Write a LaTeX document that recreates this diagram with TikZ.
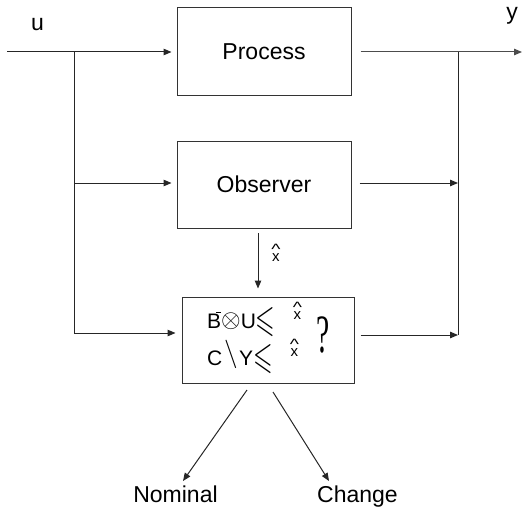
\RequirePackage{fix-cm}
\documentclass[tikz,border=0pt]{standalone}
\usepackage{amssymb}
\usepackage{graphicx}
\usepackage{fontspec}
\setmainfont{Liberation Sans}
\newfontfamily\qfont{Liberation Serif}
\usetikzlibrary{arrows.meta}
\newcommand\myxhat{{\fontsize{15}{15}\selectfont\ooalign{x\cr\hidewidth\raisebox{7pt}{\scalebox{1.3}[1]{\textasciicircum}}\hidewidth\cr}}}
\begin{document}
\begin{tikzpicture}[x=1pt,y=-1pt,font=\fontsize{23}{23}\selectfont,
  box/.style={draw=black!80,line width=1pt,minimum width=174pt,minimum height=88pt,inner sep=0pt},
  conn/.style={draw=black!85,line width=1pt},
  arr/.style={conn,-{Triangle[length=8pt,width=6.5pt]}},
  lbl/.style={inner sep=0pt,anchor=base}]
\useasboundingbox (0,0) rectangle (524,508);
% blocks
\node[box] (proc) at (264,52) {Process};
\node[box,minimum height=87pt] (obs) at (264,184.5) {Observer};
\node[box,minimum width=172pt,minimum height=86pt] (det) at (268,340) {};
% detector content
\node[inner sep=0pt,anchor=base west] (l1) at (207,328) {\fontsize{21}{21}\selectfont B\llap{\rule[15pt]{5pt}{1pt}}\raisebox{0.5pt}{\scalebox{1.2}{$\otimes$}}U\raisebox{-3pt}{\scalebox{1.2}[1.8]{$\leqslant$}}\hspace{18pt}\raisebox{9pt}{\myxhat}};
\node[inner sep=0pt,anchor=base west] (l2) at (207,365) {\fontsize{21}{21}\selectfont C\hspace{2pt}\raisebox{4pt}{\scalebox{1.3}[1.35]{$\backslash$}}\hspace{1pt}Y\raisebox{-3pt}{\scalebox{1.2}[1.8]{$\leqslant$}}\hspace{18pt}\raisebox{9pt}{\myxhat}};
\node[inner sep=0pt] (q) at (323.5,335) {\scalebox{0.55}[1]{\fontsize{54}{54}\selectfont\qfont ?}};
% labels
\node[lbl] (ulab) at (37.5,31) {u};
\node[lbl] (ylab) at (512,20) {y};
\node[lbl] (nom) at (175.5,502) {Nominal};
\node[lbl] (chg) at (357.5,502) {Change};
\node[inner sep=0pt,anchor=base west] (xl) at (272,261) {\myxhat};
% coordinates
\coordinate (uin) at (7,52);
\coordinate (j1) at (74,52);
\coordinate (j2) at (74,183);
\coordinate (j3) at (74,333);
\coordinate (yout) at (522,52);
\coordinate (k1) at (458,52);
\coordinate (k2) at (458,183);
\coordinate (k3) at (458,335);
\coordinate (d1) at (258,233);
\coordinate (a1) at (247,390);
\coordinate (a2) at (273,392);
\coordinate (t1) at (183,481);
\coordinate (t2) at (329,481);
% connectors
\draw[arr,shorten >=5pt] (uin) -- (proc.west);
\draw[conn] (j1) -- (j3);
\draw[arr,shorten >=5pt] (j2) -- (j2 -| obs.west);
\draw[arr,shorten >=6pt] (j3) -- (j3 -| det.west);
\draw[arr,draw=black!70,shorten <=9pt] (proc.east) -- (yout);
\draw[conn] (k1) -- (k3);
\draw[arr,shorten <=8pt] (obs.east |- k2) -- (k2);
\draw[arr,shorten <=6pt] (det.east |- k3) -- (k3);
\draw[arr,shorten >=8pt] (d1) -- (d1 |- det.north);
\draw[arr] (a1) -- (t1);
\draw[arr] (a2) -- (t2);
\end{tikzpicture}
\end{document}
